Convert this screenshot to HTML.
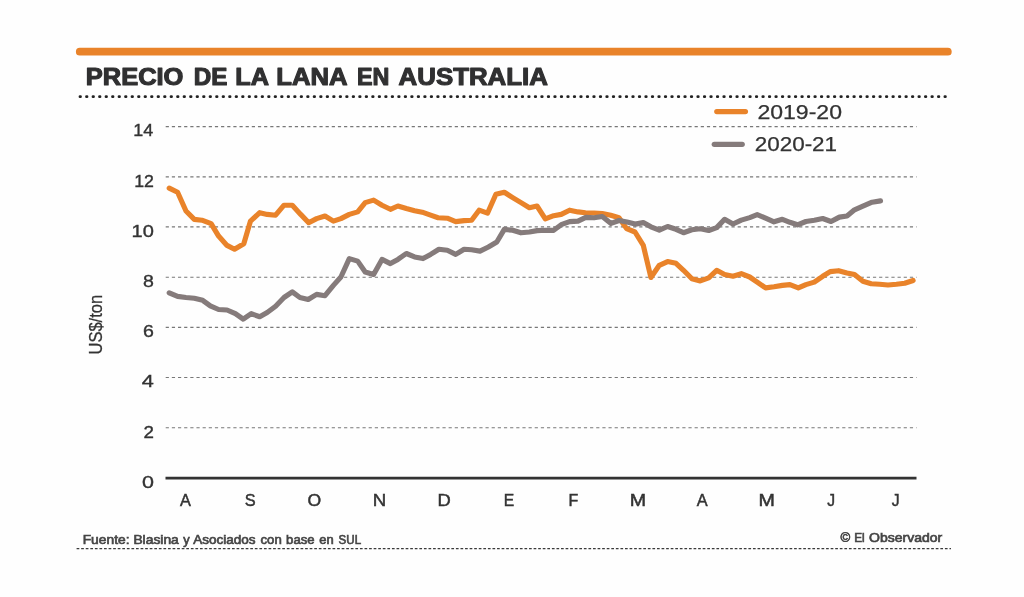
<!DOCTYPE html>
<html lang="es">
<head>
<meta charset="utf-8">
<title>Precio de la lana en Australia</title>
<style>
html,body{margin:0;padding:0;background:#fefefe;}
body{width:1024px;height:597px;overflow:hidden;font-family:"Liberation Sans",sans-serif;}
svg{display:block;}
text{font-family:"Liberation Sans",sans-serif;}
.ttl{font-weight:700;font-size:23.5px;fill:#303031;stroke:#303031;stroke-width:1.1px;stroke-linejoin:round;}
.yl{font-size:16.3px;fill:#333;stroke:#333;stroke-width:0.35px;text-anchor:end;}
.xl{font-size:15.7px;fill:#333;stroke:#333;stroke-width:0.45px;text-anchor:middle;}
.lg{font-size:20px;fill:#333;stroke:#333;stroke-width:0.25px;}
.ft{font-size:11.9px;font-weight:400;fill:#454545;stroke:#454545;stroke-width:0.62px;}
.grid line{stroke:#787878;stroke-width:1.15;stroke-dasharray:3.2 2.95;}
</style>
</head>
<body>
<svg width="1024" height="597" viewBox="0 0 1024 597">
<rect x="0" y="0" width="1024" height="597" fill="#fefefe"/>
<!-- top bar -->
<rect x="75.9" y="47.85" width="875.8" height="7.7" rx="3.85" ry="3.85" fill="#e9832a"/>
<!-- title -->
<text class="ttl" y="84.8"><tspan x="85.8" textLength="97.6" lengthAdjust="spacingAndGlyphs">PRECIO</tspan> <tspan x="193.7" textLength="33.6" lengthAdjust="spacingAndGlyphs">DE</tspan> <tspan x="235.3" textLength="32.8" lengthAdjust="spacingAndGlyphs">LA</tspan> <tspan x="276.3" textLength="70.4" lengthAdjust="spacingAndGlyphs">LANA</tspan> <tspan x="357.0" textLength="32.4" lengthAdjust="spacingAndGlyphs">EN</tspan> <tspan x="398.6" textLength="149.3" lengthAdjust="spacingAndGlyphs">AUSTRALIA</tspan></text>
<!-- dotted rule -->
<line x1="80.0" y1="96.7" x2="946.2" y2="96.7" stroke="#222" stroke-width="2.8" stroke-linecap="round" stroke-dasharray="0.5 6.003"/>
<!-- grid -->
<g class="grid">
<line x1="165.7" y1="126.6" x2="916.5" y2="126.6"/>
<line x1="165.7" y1="176.8" x2="916.5" y2="176.8"/>
<line x1="165.7" y1="226.8" x2="916.5" y2="226.8"/>
<line x1="165.7" y1="277.2" x2="916.5" y2="277.2"/>
<line x1="165.7" y1="327.3" x2="916.5" y2="327.3"/>
<line x1="165.7" y1="377.5" x2="916.5" y2="377.5"/>
<line x1="165.7" y1="427.7" x2="916.5" y2="427.7"/>
</g>
<line x1="165.5" y1="478.1" x2="916.5" y2="478.1" stroke="#333" stroke-width="2.9"/>
<!-- y labels -->
<text class="yl" transform="translate(153.2,136.4) scale(1.1,1)">14</text>
<text class="yl" transform="translate(153.9,186.6) scale(1.09,1)">12</text>
<text class="yl" transform="translate(153.9,236.6) scale(1.23,1)">10</text>
<text class="yl" transform="translate(153.9,287.0) scale(1.2,1)">8</text>
<text class="yl" transform="translate(153.9,337.1) scale(1.2,1)">6</text>
<text class="yl" transform="translate(153.9,387.3) scale(1.33,1)">4</text>
<text class="yl" transform="translate(153.9,437.5) scale(1.15,1)">2</text>
<text class="yl" transform="translate(153.9,487.9) scale(1.32,1)">0</text>
<text transform="translate(102.2,354.5) rotate(-90) scale(0.86,1)" font-size="19.2" fill="#333" stroke="#333" stroke-width="0.3">US$/ton</text>
<!-- x labels -->
<g class="xl">
<text transform="translate(185.45,505.9) scale(1.04,1)">A</text>
<text transform="translate(250.2,505.9) scale(1.04,1)">S</text>
<text transform="translate(314.4,505.9) scale(1.12,1)">O</text>
<text transform="translate(379.4,505.9) scale(1.19,1)">N</text>
<text transform="translate(444.2,505.9) scale(1.17,1)">D</text>
<text transform="translate(509.1,505.9) scale(1.0,1)">E</text>
<text transform="translate(573.4,505.9) scale(1.02,1)">F</text>
<text transform="translate(638,505.9) scale(1.25,1)">M</text>
<text transform="translate(702.3,505.9) scale(1.04,1)">A</text>
<text transform="translate(766.6,505.9) scale(1.25,1)">M</text>
<text transform="translate(831.1,505.9) scale(1.0,1)">J</text>
<text transform="translate(895.7,505.9) scale(1.0,1)">J</text>
</g>
<!-- legend -->
<line x1="716.8" y1="111.6" x2="745.4" y2="111.6" stroke="#e9832a" stroke-width="5.3" stroke-linecap="round"/>
<text class="lg" x="757.4" y="118.7" textLength="84.6" lengthAdjust="spacingAndGlyphs">2019-20</text>
<line x1="714.3" y1="144.3" x2="742.2" y2="144.3" stroke="#857b7b" stroke-width="5.3" stroke-linecap="round"/>
<text class="lg" x="754.7" y="151.2" textLength="82.4" lengthAdjust="spacingAndGlyphs">2020-21</text>
<!-- series 2019-20 -->
<polyline fill="none" stroke="#e9832a" stroke-width="5.15" stroke-linejoin="round" stroke-linecap="round" points="169.2,188.1 177.6,192.3 186,211 194.3,219.4 201.9,220.2 211.1,223.6 218.6,236.1 227,245.4 234.5,249.2 243.8,243.7 250.5,221.1 259.7,212.7 267.2,214.4 275.6,215.2 284,205.2 292.3,205.2 300.7,214.4 308.7,222.7 316.6,218.6 325,216 333.4,221.1 340.9,218.6 349.3,214.4 357.7,211.9 365.2,202.6 373.6,200.1 382,205.2 390.4,209.3 397.9,206 406.3,208.5 414.6,210.7 422.2,212.2 430.6,215.2 438.1,217.7 447.3,218.2 455.7,221.6 464.1,220.6 471.6,220.2 479.1,210.2 487.5,213.2 495.9,194.3 504.3,192.3 512.7,197.6 521,202.6 529.4,207.7 537,206 545.3,218.9 553.7,215.7 561.2,214.4 569.6,210.2 578,211.9 585.5,212.7 593.9,213 602.3,213.5 610.7,215.2 619,217.7 626.6,228.6 635,232 643.3,245.4 650.9,277.5 659.3,265.3 667.6,261.6 676,263.3 683.5,270.3 691.9,278.7 700.3,280.9 708.7,277.9 716.7,270.3 724.6,274.5 733,276.2 741.3,273.7 749.7,277 757.2,282.1 765.6,287.9 774,286.8 782.4,285.4 789.9,284.6 798.3,287.9 805.9,284.6 814.3,282.1 822.7,276.3 830.2,271.6 838.6,270.7 847,272.9 854.5,274.6 862.9,281.3 871.2,283.8 879.6,284.3 888,285 896.4,284.3 904.7,283.3 913.1,280.5"/>
<!-- series 2020-21 -->
<polyline fill="none" stroke="#857b7b" stroke-width="5.15" stroke-linejoin="round" stroke-linecap="round" points="169.2,292.8 177.6,296.4 186,297.5 194.3,298.3 202.7,300.3 210.3,305.8 218.6,309.5 227,310 235.4,313.7 243.2,319.2 251.3,313.7 259.7,316.7 267.2,312.5 275.6,306.2 284,297.5 292.3,291.9 299.9,297.5 308.2,299.5 316.6,294.4 325,295.7 333.4,285.4 340.9,277 349.3,258.6 357.7,261.1 365.2,272 373.6,274.5 382,259.4 390.4,263.6 397.9,259.4 406.3,253.5 414.6,256.9 423,258.6 430.6,254.4 438.9,249.3 447.3,250.2 455.7,254.4 464.1,249.3 471.6,249.8 480,251.1 488.4,247 496.8,242 504.3,229.4 512.7,230.3 521,232.8 529.4,232 537,230.6 545.3,230.3 553.7,230.3 561.2,224.7 569.6,221.6 578,221.1 585.8,217.4 594,217.8 602.3,216.5 611,223.4 619.1,220.5 627,222 635.2,224.1 643.3,222.6 650.9,226.8 659.3,230.2 667.6,226.5 676,229.3 683.5,232.7 691.9,229.8 700.3,228.8 708.7,230.5 716.7,227.6 724.6,219.3 733,224 741.3,220.1 749.7,217.6 757.2,214.7 765.6,218.1 774,221.8 782.4,219.3 789.9,222.3 797.5,224.8 805.9,221.5 814.3,220.2 822.7,218.5 831,221.5 839.4,217.1 847,216 854.5,209.8 862.9,206.2 872.1,202.2 880.5,200.9"/>
<!-- footer -->
<text class="ft" y="543.8"><tspan x="82.7" textLength="46.8" lengthAdjust="spacingAndGlyphs">Fuente:</tspan> <tspan x="133.4" textLength="45.4" lengthAdjust="spacingAndGlyphs">Blasina</tspan> <tspan x="183.2" textLength="6.4" lengthAdjust="spacingAndGlyphs">y</tspan> <tspan x="193.2" textLength="62.4" lengthAdjust="spacingAndGlyphs">Asociados</tspan> <tspan x="260.5" textLength="21.2" lengthAdjust="spacingAndGlyphs">con</tspan> <tspan x="286.1" textLength="28.5" lengthAdjust="spacingAndGlyphs">base</tspan> <tspan x="319.3" textLength="14.4" lengthAdjust="spacingAndGlyphs">en</tspan> <tspan x="338.6" textLength="22.5" lengthAdjust="spacingAndGlyphs">SUL</tspan></text>
<text class="ft" y="541.6"><tspan x="840.6" textLength="9.7" lengthAdjust="spacingAndGlyphs">©</tspan> <tspan x="854.2" textLength="10.5" lengthAdjust="spacingAndGlyphs">El</tspan> <tspan x="869.0" textLength="73.2" lengthAdjust="spacingAndGlyphs">Observador</tspan></text>
<line x1="76.6" y1="548.6" x2="951" y2="548.6" stroke="#3a3a3a" stroke-width="1.25" stroke-dasharray="2.7 1.87"/>
</svg>
</body>
</html>
